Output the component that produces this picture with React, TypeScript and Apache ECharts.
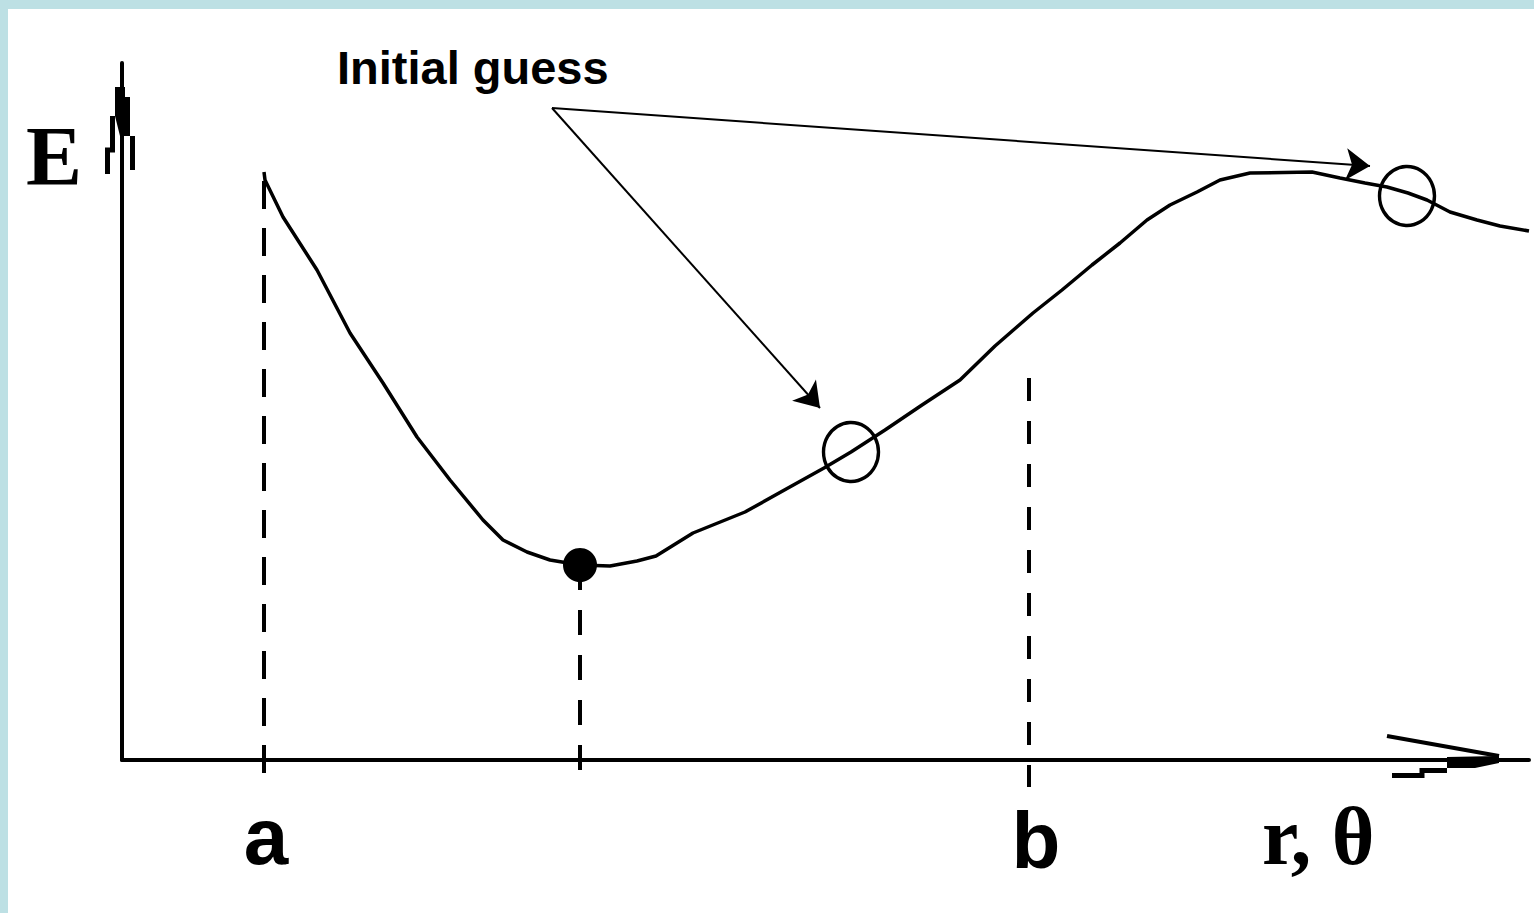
import React, { useEffect, useRef } from "react";
import * as echarts from "echarts";

// Energy curve E(r, θ) (arbitrary units)
const rValues = [
  14.2, 14.3, 16.1, 19.5, 22.8, 26.1, 29.5, 32.8, 36.1, 38.1, 40.5, 42.8, 45.8,
  48.8, 51.5, 53.4, 57.1, 62.3, 66.6, 70.2, 72.9, 76.3, 80.0, 83.8, 87.3, 91.1,
  94.0, 97.0, 99.8, 102.5, 104.8, 107.5, 109.8, 112.8, 119.0, 121.8, 124.3,
  126.5, 128.6, 130.5, 132.8, 135.5, 137.8, 140.7,
];
const eValues = [
  58.8, 58.0, 54.3, 49.0, 42.7, 37.7, 32.3, 28.0, 24.0, 22.0, 20.8, 20.0, 19.5,
  19.4, 19.9, 20.4, 22.7, 24.8, 27.2, 29.2, 30.8, 33.0, 35.5, 38.0, 41.4, 44.7,
  47.0, 49.5, 51.7, 54.0, 55.5, 56.8, 58.0, 58.7, 58.8, 58.2, 57.7, 57.3, 56.7,
  56.0, 54.8, 54.0, 53.4, 52.9,
];
const minimumPoint = [45.8, 19.5];
const guessR = [72.9, 128.5];
const guessE = [30.8, 56.4];
// vertical dashed markers: a, minimum, b
const markerR = [14.2, 45.8, 90.7];
const markerTopE = [58.8, 19.5, 38.2];
const markerBottomE = -2.7;
const arrowFrom = [43.0, 65.2];
const arrowTargets = [
  [69.8, 35.2],
  [124.8, 59.4],
];
const xMax = 140.7;
const yMax = 69.7;
const annotationText = "Initial guess";
const yAxisName = "E";
const xAxisName = "r, θ";
const markerLabels = ["a", "b"];

export default function App() {
  const ref = useRef<HTMLDivElement>(null);
  useEffect(() => {
    if (!ref.current) return;
    const chart = echarts.init(ref.current, undefined, { renderer: "svg" });
    const curve = rValues.map((r, i) => [r, eValues[i]]);
    const dashPatterns = [[28, 19], [25, 20], [23, 20]];
    const dashOffsets = [38, 0, 0];
    const markerSeries = markerR.map((r, i) => ({
      type: "line",
      data: [
        [r, markerTopE[i]],
        [r, markerBottomE],
      ],
      clip: false,
      showSymbol: false,
      symbol: "none",
      lineStyle: { color: "#000", width: 4, type: dashPatterns[i], dashOffset: dashOffsets[i] },
      z: 1,
    }));
    const blk = "#000";
    chart.setOption({
      animation: false,
      backgroundColor: "#bde0e4",
      grid: { left: 122, right: 5, top: 63, bottom: 153 },
      xAxis: {
        type: "value",
        min: 0,
        max: xMax,
        axisLine: { show: true, lineStyle: { color: blk, width: 4 } },
        axisTick: { show: false },
        axisLabel: { show: false },
        splitLine: { show: false },
      },
      yAxis: {
        type: "value",
        min: 0,
        max: yMax,
        axisLine: { show: true, onZero: false, lineStyle: { color: blk, width: 4 } },
        axisTick: { show: false },
        axisLabel: { show: false },
        splitLine: { show: false },
      },
      series: [
        {
          type: "line",
          data: curve,
          showSymbol: false,
          symbol: "none",
          smooth: false,
          lineStyle: { color: blk, width: 3.5 },
          z: 3,
        },
        ...markerSeries,
        {
          type: "scatter",
          data: [minimumPoint],
          symbol: "circle",
          symbolSize: 34,
          itemStyle: { color: blk, opacity: 1 },
          z: 4,
        },
        {
          type: "scatter",
          data: guessR.map((r, i) => [r, guessE[i]]),
          symbol: "circle",
          symbolSize: [55, 59],
          itemStyle: { color: "rgba(0,0,0,0)", borderColor: blk, borderWidth: 3.5, opacity: 1 },
          z: 4,
        },
        {
          type: "lines",
          coordinateSystem: "cartesian2d",
          data: arrowTargets.map((t) => ({ coords: [arrowFrom, t] })),
          symbol: ["none", "arrow"],
          symbolSize: 24,
          lineStyle: { color: blk, width: 2, opacity: 1 },
          z: 5,
        },
      ],
      graphic: [
        {
          type: "rect",
          shape: { x: 8, y: 9, width: 1526, height: 904 },
          style: { fill: "#ffffff" },
          z: -10,
          silent: true,
        },
        // y-axis arrow head
        {
          type: "polygon",
          shape: { points: [[115, 87], [125, 87], [125, 97], [130, 97], [130, 136], [120, 136], [115, 116]] },
          style: { fill: blk },
          z: 10,
        },
        {
          type: "polyline",
          shape: { points: [[112.5, 116], [112.5, 150], [107.5, 150], [107.5, 174]] },
          style: { stroke: blk, lineWidth: 5, fill: "none" },
          z: 10,
        },
        {
          type: "polyline",
          shape: { points: [[132.5, 136], [132.5, 170]] },
          style: { stroke: blk, lineWidth: 5, fill: "none" },
          z: 10,
        },
        // x-axis arrow head
        {
          type: "polyline",
          shape: { points: [[1387, 736], [1499, 756]] },
          style: { stroke: blk, lineWidth: 4, fill: "none" },
          z: 10,
        },
        {
          type: "polygon",
          shape: { points: [[1447, 757], [1499, 756], [1499, 763], [1475, 768], [1447, 768]] },
          style: { fill: blk },
          z: 10,
        },
        {
          type: "polyline",
          shape: { points: [[1392, 775.5], [1422, 775.5], [1422, 770.5], [1447, 770.5]] },
          style: { stroke: blk, lineWidth: 5, fill: "none" },
          z: 10,
        },
        {
          type: "text",
          x: 26,
          y: 156,
          style: {
            text: yAxisName,
            fontSize: 84,
            fontWeight: "bold",
            fontFamily: '"Liberation Serif", "DejaVu Serif", serif',
            fill: blk,
            align: "left",
            verticalAlign: "middle",
          },
          z: 10,
        },
        {
          type: "text",
          x: 1262,
          y: 836,
          style: {
            text: xAxisName,
            fontSize: 82,
            fontWeight: "bold",
            fontFamily: '"Liberation Serif", "DejaVu Serif", serif',
            fill: blk,
            align: "left",
            verticalAlign: "middle",
          },
          z: 10,
        },
        {
          type: "text",
          x: 266,
          y: 836,
          style: {
            text: markerLabels[0],
            fontSize: 80,
            fontWeight: "bold",
            fontFamily: '"Liberation Sans", Arial, sans-serif',
            fill: blk,
            align: "center",
            verticalAlign: "middle",
          },
          z: 10,
        },
        {
          type: "text",
          x: 1036,
          y: 840,
          style: {
            text: markerLabels[1],
            fontSize: 80,
            fontWeight: "bold",
            fontFamily: '"Liberation Sans", Arial, sans-serif',
            fill: blk,
            align: "center",
            verticalAlign: "middle",
          },
          z: 10,
        },
        {
          type: "text",
          x: 337,
          y: 67,
          style: {
            text: annotationText,
            fontSize: 47,
            fontWeight: "bold",
            fontFamily: '"Liberation Sans", Arial, sans-serif',
            fill: blk,
            align: "left",
            verticalAlign: "middle",
          },
          z: 10,
        },
      ],
    });
    return () => chart.dispose();
  }, []);
  return (
    <div
      ref={ref}
      style={{ position: "fixed", left: 0, top: 0, width: 1534, height: 913 }}
    />
  );
}
